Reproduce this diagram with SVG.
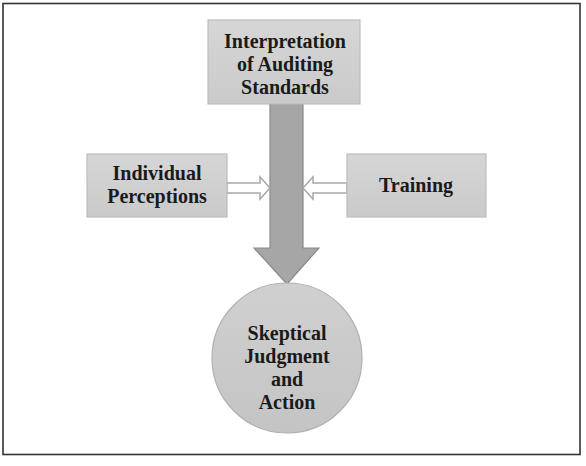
<svg xmlns="http://www.w3.org/2000/svg" width="586" height="466" viewBox="0 0 586 466">
  <defs>
    <linearGradient id="boxFill" x1="0" y1="0" x2="0" y2="1">
      <stop offset="0" stop-color="#d6d6d6"/>
      <stop offset="1" stop-color="#cacaca"/>
    </linearGradient>
    <linearGradient id="circleFill" x1="0" y1="0" x2="0" y2="1">
      <stop offset="0" stop-color="#d0d0d0"/>
      <stop offset="1" stop-color="#c4c4c4"/>
    </linearGradient>
  </defs>
  <style>
    .box { fill: url(#boxFill); stroke: #bdbdbd; stroke-width: 1.2; }
    .label { font-family: "Times New Roman", "Liberation Serif", "DejaVu Serif", serif; font-weight: 700; font-size: 20px; fill: #1a1a1a; text-anchor: middle; }
    .hollow { fill: #ffffff; stroke: #a8a8a8; stroke-width: 1.5; stroke-linejoin: miter; }
    .big { fill: #a6a6a6; stroke: #8a8a8a; stroke-width: 1.2; }
  </style>

  <rect x="3" y="3.5" width="577" height="451" fill="#ffffff" stroke="#333333" stroke-width="1.6"/>

  <g id="connectors">
    <path class="big" d="M270,104 L303,104 L303,248 L319,248 L287,284 L254,248 L270,248 Z"/>
    <path class="hollow" d="M227,183 L260,183 L260,177 L270,188 L260,199 L260,193 L227,193 Z"/>
    <path class="hollow" d="M347,183 L313,183 L313,177 L303,188 L313,199 L313,193 L347,193 Z"/>
  </g>

  <g id="interpretation">
    <rect class="box" x="208" y="20" width="152" height="84"/>
    <text class="label" x="285" y="48">Interpretation</text>
    <text class="label" x="285" y="71">of Auditing</text>
    <text class="label" x="285" y="94">Standards</text>
  </g>

  <g id="perceptions">
    <rect class="box" x="87" y="154" width="140" height="63"/>
    <text class="label" x="157" y="180">Individual</text>
    <text class="label" x="157" y="203">Perceptions</text>
  </g>

  <g id="training">
    <rect class="box" x="347" y="154" width="139" height="63"/>
    <text class="label" x="416" y="192">Training</text>
  </g>

  <g id="judgment">
    <circle cx="287" cy="358" r="75" fill="url(#circleFill)" stroke="#b0b0b0" stroke-width="1.2"/>
    <text class="label" x="287" y="340">Skeptical</text>
    <text class="label" x="287" y="363">Judgment</text>
    <text class="label" x="287" y="386">and</text>
    <text class="label" x="287" y="409">Action</text>
  </g>
</svg>
